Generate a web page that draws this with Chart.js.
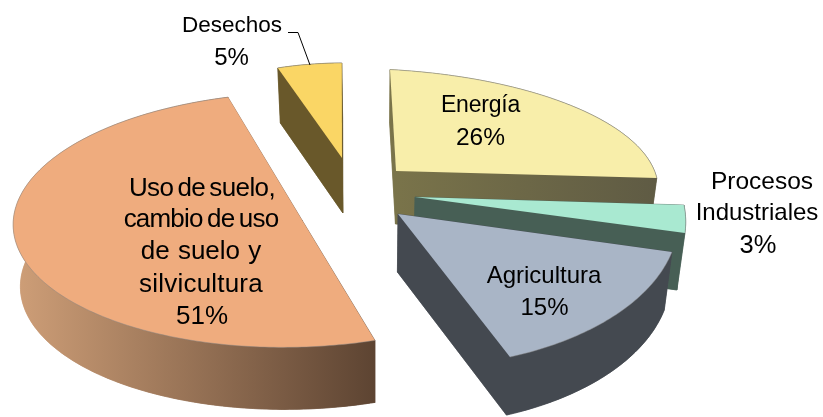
<!DOCTYPE html>
<html>
<head>
<meta charset="utf-8">
<script src="https://cdn.jsdelivr.net/npm/chart.js@4/dist/chart.umd.min.js"></script>
<style>
  html,body{margin:0;padding:0;background:#fff;}
  canvas{display:block;}
</style>
</head>
<body>
<canvas id="sectores" width="823" height="417"></canvas>
<script>
const sectores = ["Energía","Procesos Industriales","Agricultura","Uso de suelo, cambio de uso de suelo y silvicultura","Desechos"];
const porcentajes = [26,3,15,51,5];
const lineasEtiqueta = [["Energía"],["Procesos","Industriales"],["Agricultura"],["Uso de suelo,","cambio de uso","de suelo y","silvicultura"],["Desechos"]];
const coloresTapa = ["#f8eeaa","#a9e9d1","#a9b5c6","#efac7e","#fad665"];
const coloresPared = [["#7a744a","#5f5b44"],["#475f55","#475f55"],["#444950","#444950"],["#cf9f78","#5d4432"],["#69582a","#69582a"]];

/* tilted view of each exploded slice, the arcs come from chart.js angles */
const vistas = [
    {x:396,y:171,ax:0,xx:299,xy:-3.6,yx:4.8,yy:116,px:0.15,py:-0.15,prof:53,conv:0.026},
    {x:415,y:197,ax:0,xx:268,xy:38.2,yx:3.8,yy:150.3,px:0,py:0,prof:57,conv:0.026},
    {x:398,y:214,ax:0,xx:280.6,xy:-0.4,yx:5.1,yy:153.9,px:0,py:0,prof:58,conv:0.026},
    {x:293,y:220,ax:9,xx:278,xy:-32,yx:10,yy:127,px:0,py:0,prof:62,conv:0.02},
    {x:342,y:158,ax:0,xx:207,xy:-7,yx:2.2,yy:95,px:0,py:0,prof:55,conv:0.026}
];
const ordenDibujo = [4,3,0,1,2];

/* one entry per text line, last one is the percentage */
const estilosEtiqueta = [
    [{x:480.5,y:112,t:23,ls:-0.2,ws:0},{x:480.5,y:145,t:24.5,ls:0,ws:0}],
    [{x:762,y:189,t:24.5,ls:0,ws:0},{x:757,y:220,t:24,ls:0,ws:0},{x:758,y:253,t:25.5,ls:0,ws:0}],
    [{x:544,y:283,t:24,ls:0,ws:0},{x:544.5,y:315,t:24,ls:0,ws:0}],
    [{x:202,y:196,t:26,ls:-0.6,ws:-2.5},{x:201,y:227,t:26,ls:-0.8,ws:-2},{x:201,y:259,t:26,ls:0,ws:1},{x:201,y:292,t:26,ls:0.2,ws:0},{x:202,y:324,t:26,ls:0,ws:0}],
    [{x:232,y:32,t:22.5,ls:0,ws:0},{x:231.5,y:65,t:24,ls:0,ws:0}]
];

function proyectar(v,ang){
    let c=Math.cos(ang), s=Math.sin(ang);
    let w=1+v.px*c+v.py*s;
    return [v.x+(v.xx*c+v.xy*s)/w, v.y+(v.yx*c+v.yy*s)/w];
}
function bajar(p,v){
    return [p[0]-(p[0]-375)*v.conv, p[1]+v.prof];
}
function muestras(v,a1,a2){
    let pts=[];
    let n=Math.max(8,Math.ceil((a2-a1)*60));
    for(let i=0;i<=n;i++){
        pts.push(proyectar(v,a1+(a2-a1)*i/n));
    }
    return pts;
}
function poligono(ctx,pts){
    ctx.beginPath();
    pts.forEach((p,i)=>{ i==0 ? ctx.moveTo(p[0],p[1]) : ctx.lineTo(p[0],p[1]); });
    ctx.closePath();
}

const pastel3d = {
    id:"pastel3d",
    beforeDatasetDraw(chart){
        let ctx=chart.ctx;
        let arcos=chart.getDatasetMeta(0).data;
        ctx.save();
        for(let i of ordenDibujo){
            let v=vistas[i];
            let arco=arcos[i];
            let tapa=muestras(v,arco.startAngle,arco.endAngle);
            let centro=[v.x+v.ax,v.y];
            let abajo=tapa.map(p=>bajar(p,v));
            let xs=tapa.map(p=>p[0]).concat(centro[0]);
            let grad=ctx.createLinearGradient(Math.min(...xs),0,Math.max(...xs),0);
            grad.addColorStop(0,coloresPared[i][0]);
            grad.addColorStop(1,coloresPared[i][1]);
            ctx.fillStyle=grad;
            ctx.strokeStyle=grad;
            ctx.lineWidth=0.5;
            let cb=bajar(centro,v);
            // side walls, then the curved one
            let caras=[
                [centro,tapa[0],abajo[0],cb],
                [centro,tapa[tapa.length-1],abajo[abajo.length-1],cb],
                tapa.concat(abajo.slice().reverse()),
                [cb].concat(abajo)
            ];
            for(let c of caras){
                poligono(ctx,c);
                ctx.fill();
                ctx.stroke();
            }
            poligono(ctx,[centro].concat(tapa));
            ctx.fillStyle=arco.options.backgroundColor;
            ctx.fill();
            ctx.strokeStyle="rgba(130,130,130,0.45)";
            ctx.lineWidth=1;
            ctx.beginPath();
            tapa.forEach((p,k)=>{ k==0 ? ctx.moveTo(p[0],p[1]) : ctx.lineTo(p[0],p[1]); });
            ctx.stroke();
        }
        ctx.restore();
        return false;
    },
    afterDraw(chart){
        let ctx=chart.ctx;
        ctx.save();
        // leader line of Desechos
        ctx.strokeStyle="#000";
        ctx.lineWidth=1;
        ctx.beginPath();
        ctx.moveTo(288,32.5);
        ctx.lineTo(298,32.5);
        ctx.lineTo(310,65);
        ctx.stroke();
        ctx.fillStyle="#000";
        ctx.textAlign="center";
        ctx.textBaseline="alphabetic";
        porcentajes.forEach((val,i)=>{
            let lineas=lineasEtiqueta[i].concat(val+"%");
            lineas.forEach((t,k)=>{
                let e=estilosEtiqueta[i][k];
                ctx.font=e.t+"px 'Liberation Sans'";
                ctx.letterSpacing=e.ls+"px";
                ctx.wordSpacing=e.ws+"px";
                ctx.fillText(t,e.x,e.y);
            });
        });
        ctx.restore();
    }
};

new Chart(document.getElementById("sectores"),{
    type:"pie",
    data:{
        labels:sectores,
        datasets:[{data:porcentajes,backgroundColor:coloresTapa,borderWidth:0}]
    },
    options:{
        responsive:false,
        animation:false,
        rotation:-2,
        plugins:{legend:{display:false},tooltip:{enabled:false}}
    },
    plugins:[pastel3d]
});
</script>
</body>
</html>
